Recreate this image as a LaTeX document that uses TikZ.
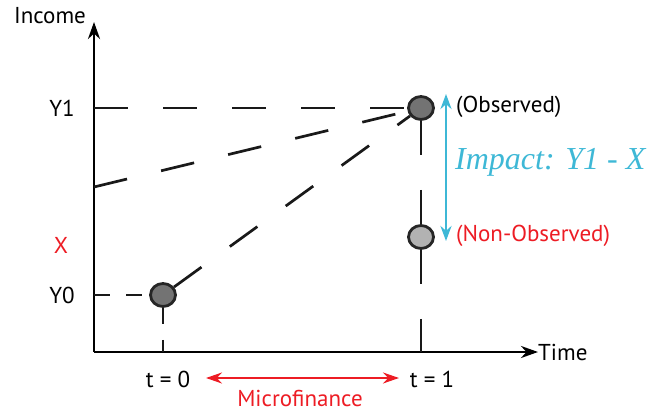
\documentclass[tikz,border=0pt]{standalone}
\usepackage{fontspec}
\setmainfont{PT Sans}
\newfontfamily\impactfont{Liberation Serif}
\usetikzlibrary{shapes.geometric,arrows.meta}
\definecolor{impactblue}{RGB}{62,184,214}
\definecolor{labelred}{RGB}{237,28,36}
\begin{document}
\begin{tikzpicture}[x=1pt,y=-1pt,font=\fontsize{23}{27}\selectfont,
    dot/.style={ellipse,draw=black!85,line width=2.8pt,minimum width=25pt,minimum height=23pt,inner sep=0pt},
    dashline/.style={line width=2.7pt,draw=black!90,dash pattern=on 34pt off 35pt},
    shortdash/.style={line width=2.7pt,draw=black!90,dash pattern=on 16pt off 16pt}]
  \useasboundingbox (0,0) rectangle (667,414);
  % axes
  \coordinate (origin) at (94,352);
  \draw[line width=2.8pt,-{Stealth[length=17pt,width=12pt]}] (origin) -- (94,22) coordinate (ytip);
  \draw[line width=2.8pt,-{Stealth[length=17pt,width=12pt]}] (origin) -- (538,352) coordinate (xtip);
  \node (income) at (50,16) {Income};
  \node[right,inner sep=0pt] (time) at (xtip) {Time};
  \node (ylab1) at (62,108) {Y1};
  \node[labelred] (xlab) at (61,245) {X};
  \node (ylab0) at (62,295) {Y0};
  % points
  \node[dot,fill=black!55] (obs) at (421,108) {};
  \node[dot,fill=black!30] (nonobs) at (421,237) {};
  \node[dot,fill=black!55] (start) at (163,295) {};
  \coordinate (yone) at (94,108);
  \coordinate (xmid) at (94,187);
  \coordinate (yzero) at (94,295);
  % dashed guides
  \draw[dashline] (yone) -- (obs);
  \draw[dashline] (xmid) -- (obs);
  \draw[dashline] (start) -- (obs);
  \draw[shortdash] (yzero) -- (start);
  \draw[shortdash] (start) -- (start |- origin);
  \draw[dashline] (obs) -- (nonobs);
  \draw[dashline] (nonobs) -- (nonobs |- origin);
  % impact
  \draw[impactblue,line width=2.7pt,{Stealth[length=15pt,width=11pt]}-{Stealth[length=15pt,width=11pt]}] (446,94) -- (446,241);
  \node[right,inner sep=0pt] (obslab) at (456,107) {(Observed)};
  \node[right,inner sep=0pt,labelred] (nonobslab) at (456,236) {(Non-Observed)};
  \node[right,inner sep=0pt,impactblue] (impact) at (455,162) {\impactfont\itshape\fontsize{32}{36}\selectfont Impact: Y1 - X};
  % time labels
  \node (tzero) at (168,379) {t = 0};
  \node (tone) at (432,379) {t = 1};
  \draw[labelred,line width=2.2pt,{Stealth[length=16pt,width=11pt]}-{Stealth[length=16pt,width=11pt]}] (206,378) -- (399,378);
  \node[labelred] (micro) at (300,398) {Microfinance};
\end{tikzpicture}
\end{document}
